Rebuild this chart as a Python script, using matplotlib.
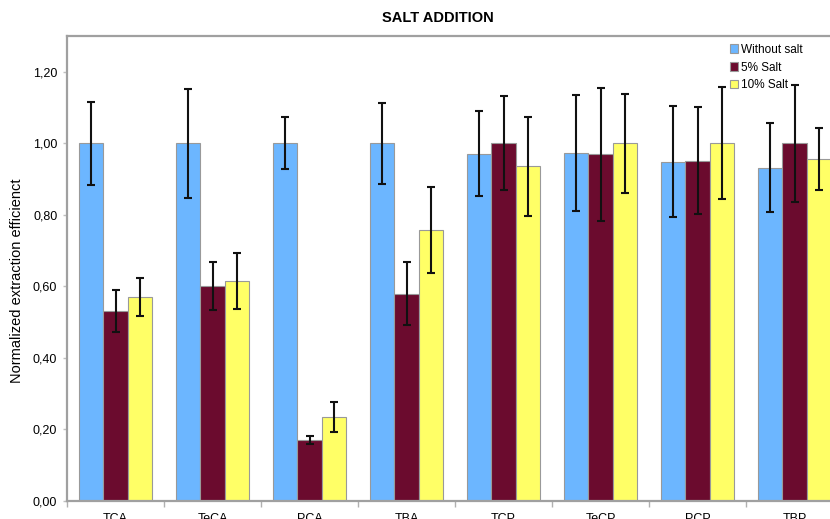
import numpy as np
import matplotlib.pyplot as plt
from matplotlib.ticker import FixedLocator, FuncFormatter

plt.rcParams['font.family'] = ['Liberation Sans', 'DejaVu Sans']

# Compounds and normalized extraction efficiency per salt level
compounds = ["TCA", "TeCA", "PCA", "TBA", "TCP", "TeCP", "PCP", "TBP"]
without_salt = [1.00, 1.00, 1.00, 1.00, 0.971, 0.973, 0.949, 0.932]
salt_5 = [0.531, 0.600, 0.171, 0.580, 1.00, 0.969, 0.951, 1.00]
salt_10 = [0.570, 0.615, 0.235, 0.758, 0.936, 1.00, 1.00, 0.956]

# standard deviations (error bars)
err_without = [0.116, 0.152, 0.073, 0.114, 0.119, 0.162, 0.156, 0.125]
err_5 = [0.058, 0.067, 0.012, 0.089, 0.131, 0.187, 0.150, 0.163]
err_10 = [0.053, 0.077, 0.043, 0.121, 0.138, 0.139, 0.157, 0.087]

series = [
    ("Without salt", without_salt, err_without, "#6cb6ff"),
    ("5% Salt", salt_5, err_5, "#6b0b2e"),
    ("10% Salt", salt_10, err_10, "#ffff66"),
]

fig = plt.figure(figsize=(8.3, 5.19), dpi=100)
ax = fig.add_axes([67 / 830, 18 / 519, 776 / 830, 465 / 519])

x = np.arange(len(compounds))
w = 0.25
for k, (name, vals, errs, col) in enumerate(series):
    ax.bar(x + (k - 1) * w, vals, w, color=col, edgecolor="#999999",
           linewidth=0.8, label=name, zorder=2)
    ax.errorbar(x + (k - 1) * w, vals, yerr=errs, fmt="none", ecolor="#111111",
                elinewidth=1.5, capsize=3, capthick=1.5, zorder=3)

ax.set_xlim(-0.5, len(compounds) - 0.5)
ax.set_ylim(0, 1.3)
ax.set_yticks(np.arange(0, 1.21, 0.2))
ax.yaxis.set_major_formatter(FuncFormatter(lambda v, p: f"{v:.2f}".replace(".", ",")))
ax.set_xticks(x)
ax.set_xticklabels(compounds)
ax.xaxis.set_minor_locator(FixedLocator(np.arange(-0.5, len(compounds), 1.0)))
ax.tick_params(axis="x", which="major", length=0, pad=9, labelsize=9)
ax.tick_params(axis="x", which="minor", length=4, color="#b0b0b0", width=1)
ax.tick_params(axis="y", length=3, color="#c0c0c0", width=1, labelsize=9, pad=4)

for side in ["top", "left", "bottom", "right"]:
    ax.spines[side].set_color("#a0a0a0")
    ax.spines[side].set_linewidth(1.6)

ax.set_ylabel("Normalized extraction efficienct", fontsize=10.5)
ax.yaxis.set_label_coords(-0.056, 0.473)
ax.set_title("SALT ADDITION", fontsize=10.5, fontweight="bold", pad=10, x=371 / 776)

leg = ax.legend(loc="upper left", bbox_to_anchor=(655 / 776, 1.0), frameon=False,
                fontsize=8.5, handlelength=0.7, handleheight=0.7,
                handletextpad=0.3, labelspacing=0.5, borderaxespad=0.25)
for h in leg.legend_handles:
    h.set_edgecolor("#999999")

fig.savefig("out.png", dpi=100)
